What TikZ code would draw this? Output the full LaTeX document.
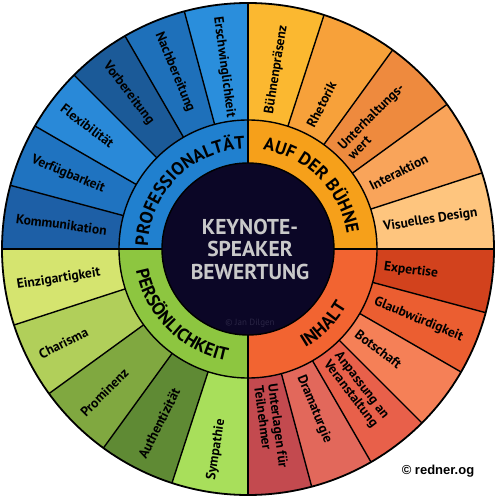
\documentclass[tikz,border=0pt]{standalone}
\usepackage{fontspec}
\setmainfont{PT Sans}
\newfontfamily\credfont{Liberation Sans}
\usetikzlibrary{decorations.text}
% Professionalitaet
\definecolor{pK}{HTML}{1D5FA6}
\definecolor{pV}{HTML}{1F73C0}
\definecolor{pF}{HTML}{2989D8}
\definecolor{pB}{HTML}{1B5A98}
\definecolor{pN}{HTML}{1E70BA}
\definecolor{pE}{HTML}{2A8EDC}
\definecolor{pRing}{HTML}{2080CF}
% Buehne
\definecolor{bB}{HTML}{FBB830}
\definecolor{bR}{HTML}{F7A13A}
\definecolor{bU}{HTML}{EE8A3E}
\definecolor{bI}{HTML}{F9A45A}
\definecolor{bV}{HTML}{FEC57E}
\definecolor{bRing}{HTML}{F6A01A}
% Inhalt
\definecolor{iE}{HTML}{D2421D}
\definecolor{iG}{HTML}{EB5E31}
\definecolor{iB}{HTML}{F58057}
\definecolor{iA}{HTML}{E8604A}
\definecolor{iD}{HTML}{E2685B}
\definecolor{iU}{HTML}{C34A4F}
\definecolor{iRing}{HTML}{F26431}
% Persoenlichkeit
\definecolor{gE}{HTML}{D5E46F}
\definecolor{gC}{HTML}{B1CF5A}
\definecolor{gP}{HTML}{80A840}
\definecolor{gA}{HTML}{5F8A34}
\definecolor{gS}{HTML}{A8DF5B}
\definecolor{gRing}{HTML}{8DC640}
% centre
\definecolor{core}{HTML}{0B0626}
\definecolor{coretext}{HTML}{C9C9C9}
\definecolor{faint}{HTML}{2A2545}
\newcommand\ringfont{\bfseries\fontsize{18}{18}\selectfont}
\newcommand\Ro{246}
\newcommand\Rm{129}
\newcommand\Ri{86}
\newcommand\segfill[3]{\fill[#1] (#2:\Rm) arc[start angle=#2,end angle=#3,radius=\Rm] -- (#3:\Ro) arc[start angle=#3,end angle=#2,radius=\Ro] -- cycle;}
\newcommand\ringfill[3]{\fill[#1] (#2:\Ri) arc[start angle=#2,end angle=#3,radius=\Ri] -- (#3:\Rm) arc[start angle=#3,end angle=#2,radius=\Rm] -- cycle;}
\begin{document}
\begin{tikzpicture}[x=1pt,y=1pt,
  seglabel/.style={font=\bfseries\fontsize{13.5}{14}\selectfont, inner sep=0pt, anchor=west, align=left, text=black},
  divider/.style={line width=1.4pt, draw=black},
  rim/.style={line width=1.8pt, draw=black}]
\useasboundingbox (-248,-251) rectangle (252,249);
% ring quadrants
\ringfill{pRing}{90}{180}
\ringfill{bRing}{0}{90}
\ringfill{iRing}{270}{360}
\ringfill{gRing}{180}{270}
% outer segments: Professionalitaet
\segfill{pK}{165}{180}
\segfill{pV}{150}{165}
\segfill{pF}{135}{150}
\segfill{pB}{120}{135}
\segfill{pN}{105}{120}
\segfill{pE}{90}{105}
% Auf der Buehne
\segfill{bB}{72}{90}
\segfill{bR}{54}{72}
\segfill{bU}{36}{54}
\segfill{bI}{18}{36}
\segfill{bV}{0}{18}
% Inhalt
\segfill{iE}{345}{360}
\segfill{iG}{330}{345}
\segfill{iB}{315}{330}
\segfill{iA}{300}{315}
\segfill{iD}{285}{300}
\segfill{iU}{270}{285}
% Persoenlichkeit
\segfill{gE}{180}{198}
\segfill{gC}{198}{216}
\segfill{gP}{216}{234}
\segfill{gA}{234}{252}
\segfill{gS}{252}{270}
% centre disc
\fill[core] (0,0) circle[radius=\Ri];
% dividers
\foreach \a in {105,120,135,150,165,18,36,54,72,285,300,315,330,345,198,216,234,252}
  \draw[divider] (\a:\Rm) -- (\a:\Ro);
\foreach \a in {0,90,180,270}
  \draw[divider] (\a:\Ri) -- (\a:\Ro);
\draw[divider] (0,0) circle[radius=\Ri];
\draw[divider] (0,0) circle[radius=\Rm];
\draw[rim] (0,0) circle[radius=\Ro];
% labels, left half (read inward)
\node[seglabel, rotate=352.5] (l1) at (172.5:234) {Kommunikation};
\node[seglabel, rotate=337.5] (l2) at (157.5:234) {Verfügbarkeit};
\node[seglabel, rotate=322.5] (l3) at (142.5:234) {Flexibilität};
\node[seglabel, rotate=307.5] (l4) at (127.5:234) {Vorbereitung};
\node[seglabel, rotate=292.5] (l5) at (112.5:234) {Nachbereitung};
\node[seglabel, rotate=277.5] (l6) at (97.5:234) {Erschwinglichkeit};
\node[seglabel, rotate=9] (l7) at (189:234) {Einzigartigkeit};
\node[seglabel, rotate=27] (l8) at (207:234) {Charisma};
\node[seglabel, rotate=45] (l9) at (225:234) {Prominenz};
\node[seglabel, rotate=63] (l10) at (243:234) {Authentizität};
\node[seglabel, rotate=81] (l11) at (261:234) {Sympathie};
% labels, right half (read outward)
\node[seglabel, rotate=81] (r1) at (81:137) {Bühnenpräsenz};
\node[seglabel, rotate=63] (r2) at (63:137) {Rhetorik};
\node[seglabel, rotate=45] (r3) at (45:137) {Unterhaltungs-\\wert};
\node[seglabel, rotate=27] (r4) at (27:137) {Interaktion};
\node[seglabel, rotate=9] (r5) at (9:137) {Visuelles Design};
\node[seglabel, rotate=-7.5] (r6) at (-7.5:137) {Expertise};
\node[seglabel, rotate=-22.5] (r7) at (-22.5:137) {Glaubwürdigkeit};
\node[seglabel, rotate=-37.5] (r8) at (-37.5:137) {Botschaft};
\node[seglabel, rotate=-52.5] (r9) at (-52.5:137) {Anpassung an\\Veranstaltung};
\node[seglabel, rotate=-67.5] (r10) at (-67.5:137) {Dramaturgie};
\node[seglabel, rotate=-82.5] (r11) at (-82.5:137) {Unterlagen für\\Teilnehmer};
% ring titles
\path[decorate, decoration={text along path, text align=center, text={|\ringfont|PROFESSIONALTÄT}}]
  (180:100) arc[start angle=180, end angle=90, radius=100];
\path[decorate, decoration={text along path, text align=center, text={|\ringfont|AUF DER BÜHNE}}]
  (90:100) arc[start angle=90, end angle=0, radius=100];
\path[decorate, decoration={text along path, text align=center, text={|\ringfont|PERSÖNLICHKEIT}}]
  (180:114) arc[start angle=180, end angle=270, radius=114];
\path[decorate, decoration={text along path, text align=center, text={|\ringfont|INHALT}}]
  (270:114) arc[start angle=270, end angle=360, radius=114];
% centre
\node[font=\bfseries\fontsize{21.5}{22.5}\selectfont, text=coretext, align=center, inner sep=0pt] (title) at (2,0) {KEYNOTE-\\SPEAKER\\BEWERTUNG};
\node[font=\fontsize{9}{10}\selectfont, text=faint, inner sep=0pt] (jd) at (2,-74) {© Jan Dilgen};
\node[font=\credfont\bfseries\fontsize{13}{14}\selectfont, inner sep=0pt] (cred) at (190,-222) {© redner.og};
\end{tikzpicture}
\end{document}
